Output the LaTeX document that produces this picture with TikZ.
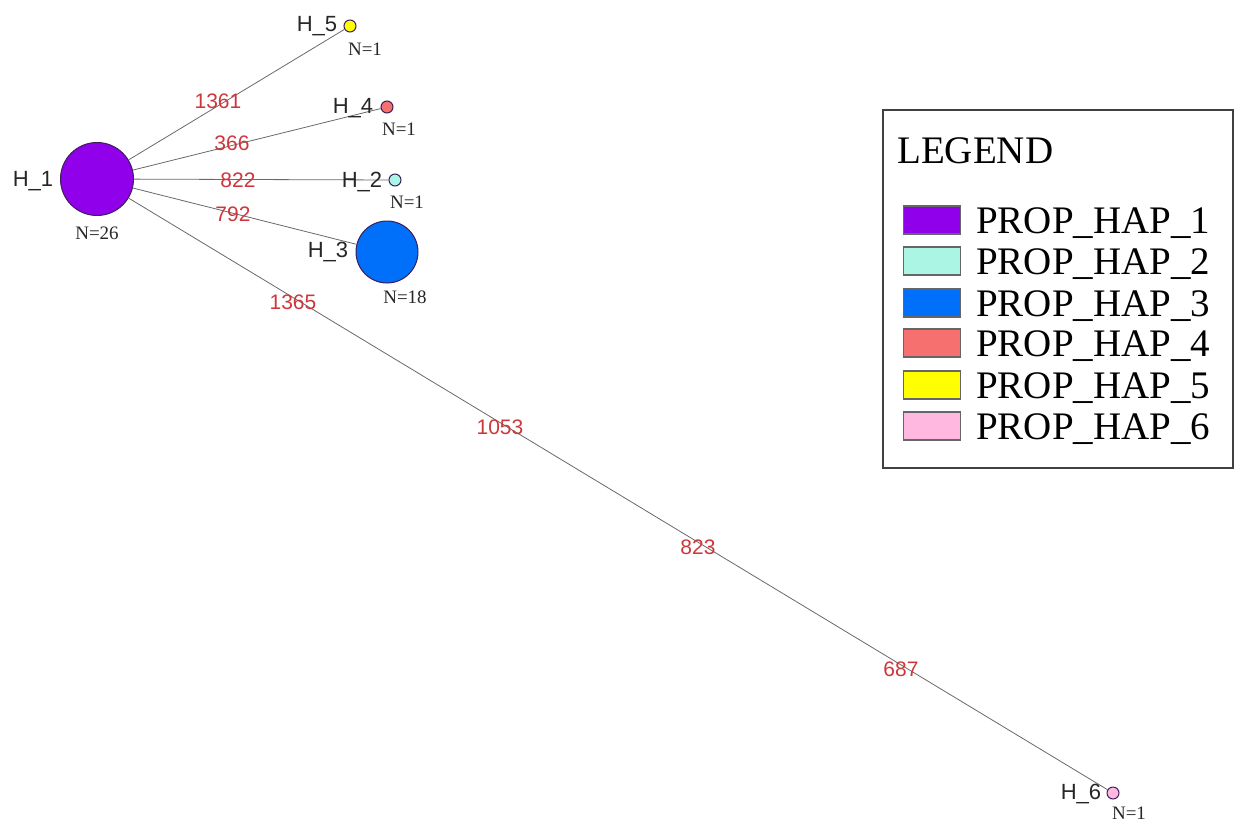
\documentclass[tikz,border=0pt]{standalone}
\usepackage{fontspec}
\setmainfont{Liberation Serif}
\newfontfamily\arialf{Liberation Sans}
\definecolor{edgegray}{RGB}{105,105,105}
\definecolor{elabred}{RGB}{205,55,60}
\definecolor{hapA}{RGB}{145,0,235}
\definecolor{hapB}{RGB}{170,245,228}
\definecolor{hapC}{RGB}{0,112,250}
\definecolor{hapD}{RGB}{245,112,110}
\definecolor{hapE}{RGB}{255,255,0}
\definecolor{hapF}{RGB}{255,185,225}
\definecolor{nodeline}{RGB}{60,30,90}
\tikzset{
  hap/.style={circle, draw=nodeline, line width=1pt, inner sep=0pt},
  hname/.style={font=\arialf\fontsize{22}{25}\selectfont, inner sep=0pt, text=black!85},
  ncount/.style={font=\fontsize{19}{22}\selectfont, inner sep=0pt, text=black!85},
  elab/.style={font=\arialf\fontsize{21}{24}\selectfont, inner sep=0pt, text=elabred},
  conn/.style={draw=edgegray, line width=0.8pt},
  swatch/.style={draw=black!60, line width=1.6pt, minimum width=57pt, minimum height=28pt, inner sep=0pt},
  legtext/.style={font=\fontsize{39}{42}\selectfont, inner sep=0pt, anchor=base west}
}
\begin{document}
\begin{tikzpicture}[x=1pt,y=-1pt]
\useasboundingbox (0,0) rectangle (1240,823);
% haplotype nodes
\node[hap, fill=hapA, minimum size=73pt] (h1) at (97,179) {};
\node[hap, fill=hapC, minimum size=62pt] (h3) at (387,252) {};
\node[hap, fill=hapE, minimum size=12pt] (h5) at (350,26) {};
\node[hap, fill=hapD, minimum size=12pt] (h4) at (387,107) {};
\node[hap, fill=hapB, minimum size=12pt] (h2) at (395,180) {};
\node[hap, fill=hapF, minimum size=12pt] (h6) at (1113,793) {};
% connectors
\draw[conn] (h1) -- (h5);
\draw[conn] (h1) -- (h4);
\draw[conn] (h1) -- (h2);
\draw[conn] (h1) -- (h3);
\draw[conn] (h1) -- (h6);
% names
\node[hname] (n1) at (33,181) {H\_1};
\node[hname] (n5) at (317,26) {H\_5};
\node[hname] (n4) at (353,108) {H\_4};
\node[hname] (n2) at (362,182) {H\_2};
\node[hname] (n3) at (328,252) {H\_3};
\node[hname] (n6) at (1081,794) {H\_6};
% counts
\node[ncount] (c1) at (97,233) {N=26};
\node[ncount] (c5) at (365,49) {N=1};
\node[ncount] (c4) at (399,129) {N=1};
\node[ncount] (c2) at (407,202) {N=1};
\node[ncount] (c3) at (405,297) {N=18};
\node[ncount] (c6) at (1129,813) {N=1};
% edge labels
\node[elab] (e1) at (218,101) {1361};
\node[elab] (e2) at (232,143) {366};
\node[elab] (e3) at (238,180) {822};
\node[elab] (e4) at (233,214) {792};
\node[elab] (e5) at (293,302) {1365};
\node[elab] (e6) at (500,427) {1053};
\node[elab] (e7) at (698,547) {823};
\node[elab] (e8) at (901,669) {687};
% legend
\node[draw=black!75, line width=1.2pt, minimum width=350pt, minimum height=358pt, inner sep=0pt] (legbox) at (1058,289) {};
\node[legtext] (lt) at (897,163) {LEGEND};
\node[swatch, fill=hapA] (s1) at (932,220) {};
\node[swatch, fill=hapB] (s2) at (932,261) {};
\node[swatch, fill=hapC] (s3) at (932,303) {};
\node[swatch, fill=hapD] (s4) at (932,343) {};
\node[swatch, fill=hapE] (s5) at (932,385) {};
\node[swatch, fill=hapF] (s6) at (932,426) {};
\node[legtext] (l1) at (976,233) {PROP\_HAP\_1};
\node[legtext] (l2) at (976,274) {PROP\_HAP\_2};
\node[legtext] (l3) at (976,316) {PROP\_HAP\_3};
\node[legtext] (l4) at (976,356) {PROP\_HAP\_4};
\node[legtext] (l5) at (976,398) {PROP\_HAP\_5};
\node[legtext] (l6) at (976,439) {PROP\_HAP\_6};
\end{tikzpicture}
\end{document}
